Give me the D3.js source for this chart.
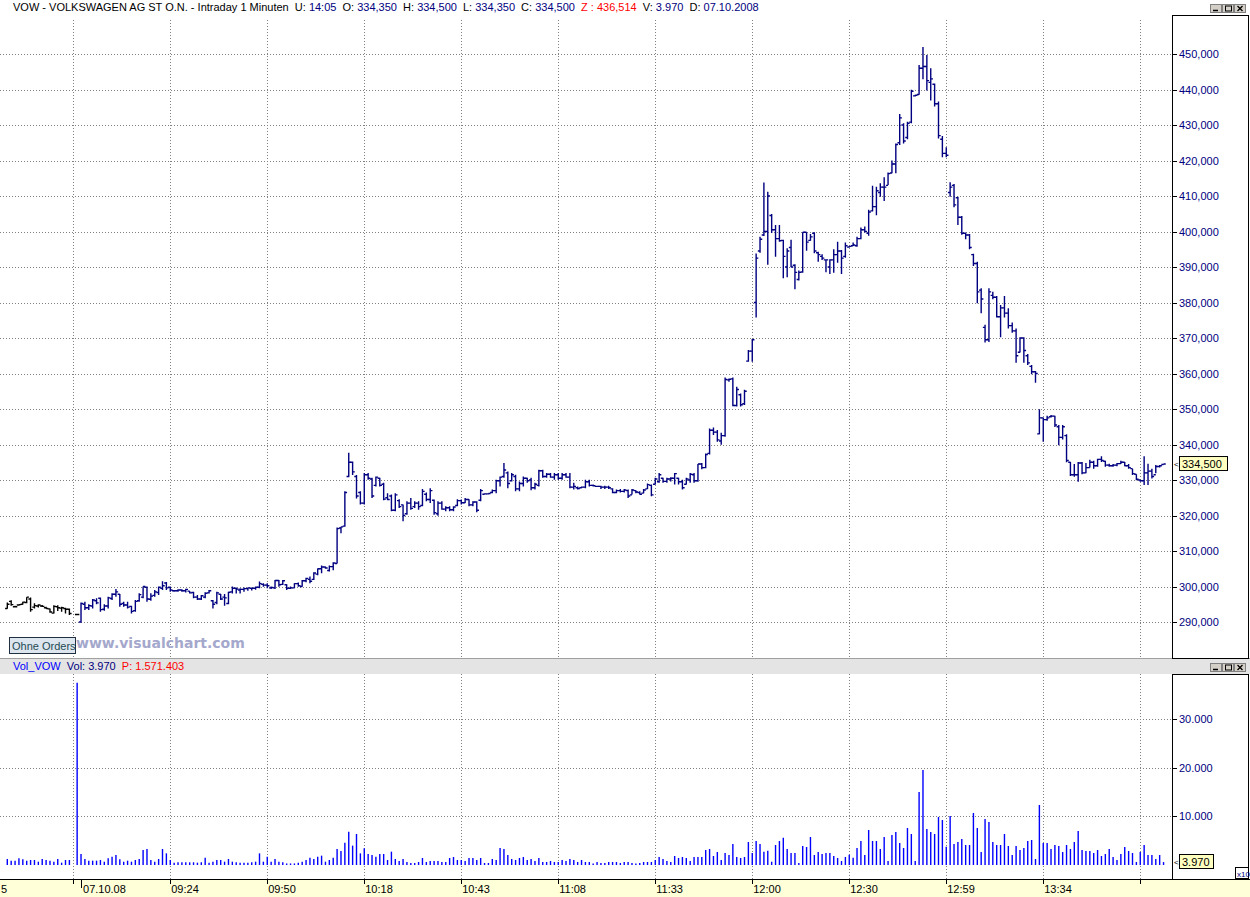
<!DOCTYPE html>
<html>
<head>
<meta charset="utf-8">
<title>VOW Intraday 1 Minuten</title>
<script src="https://cdn.jsdelivr.net/npm/d3@7"></script>
<style>
  body { margin: 0; background: #fff; }
  svg { display: block; font-family: "Liberation Sans", Arial, sans-serif; }
</style>
</head>
<body>
<script>
// 1-minute bars, index 0 = first bar on screen (index 17 = session gap)
var opens = [293.8,295.8,294.3,294.8,295.0,295.5,296.5,294.2,294.5,294.5,294.0,293.7,292.5,294.3,293.9,293.8,293.6,null,292.1,290.0,
  295.0,294.0,294.5,296.0,296.7,293.6,294.5,296.6,297.8,297.8,295.2,294.8,294.4,293.2,296.0,297.0,299.8,296.4,297.5,298.3,
  299.5,301.0,299.8,298.8,298.8,299.0,298.8,298.7,298.3,297.0,296.5,297.0,298.2,296.0,295.5,297.8,297.0,295.2,298.5,299.5,
  299.0,299.2,299.4,299.5,299.5,299.8,300.6,300.4,299.6,299.6,301.7,300.6,300.5,299.5,299.6,300.8,300.0,301.6,302.0,302.0,
  303.5,305.0,305.5,304.5,305.6,306.5,316.5,317.0,331.0,335.0,331.0,326.5,323.5,331.5,330.3,328.5,330.5,328.8,325.0,325.5,
  321.5,324.2,323.0,320.5,323.5,322.5,323.5,322.8,326.0,324.5,324.3,320.5,323.5,321.8,322.2,321.6,322.8,324.2,323.6,324.5,
  323.0,323.8,324.3,326.0,326.1,326.5,327.0,329.8,331.0,332.0,329.8,331.0,327.5,329.0,330.5,330.0,327.8,328.5,332.6,331.0,
  331.6,330.8,331.5,330.5,331.5,330.8,328.0,327.8,327.8,328.0,329.5,328.5,328.2,328.2,328.0,328.0,327.5,326.5,327.0,326.8,
  327.0,325.8,327.0,326.5,326.3,327.5,328.5,328.8,329.5,330.5,329.6,330.3,330.5,330.5,329.5,328.8,330.0,331.5,329.8,334.5,
  333.5,337.5,344.0,343.5,341.0,342.5,358.2,358.5,351.0,354.0,351.5,363.5,366.3,380.0,394.5,399.0,400.0,404.5,400.5,398.0,
  397.5,390.0,395.5,390.5,386.5,388.6,399.8,397.5,399.5,394.0,393.0,392.0,390.0,392.0,393.5,394.5,393.0,395.6,396.0,396.0,
  398.0,400.5,399.5,405.8,407.0,411.0,412.5,413.0,416.5,419.0,425.0,430.0,426.5,430.8,438.2,438.6,446.0,446.5,442.0,441.5,
  436.0,426.0,422.0,411.0,413.0,409.5,404.0,399.5,399.0,393.5,391.0,383.5,373.0,369.5,382.0,381.5,376.0,378.5,377.0,373.5,
  372.0,366.0,370.0,365.0,362.0,360.5,343.0,347.5,347.0,347.8,348.0,345.0,342.0,342.5,335.0,331.5,331.5,334.8,332.0,333.5,
  335.0,334.0,335.8,335.3,334.2,334.0,334.2,334.6,335.0,334.0,333.2,331.6,330.0,329.8,332.0,332.5,331.5,333.8,334.35];
var highs = [295.5,296.1,294.6,295.0,295.7,297.0,296.9,295.3,295.0,294.8,294.3,293.8,294.7,294.7,294.3,294.0,293.8,null,292.2,295.5,
  295.7,295.0,296.5,296.7,296.9,295.0,297.1,298.1,299.3,297.9,295.7,295.7,294.6,296.2,298.1,300.0,300.0,298.1,299.0,300.0,
  301.5,301.3,300.0,299.0,299.2,299.2,299.4,298.7,298.5,297.6,297.6,298.4,299.0,296.2,298.5,297.9,297.9,298.5,300.0,299.7,
  299.5,299.7,299.7,299.7,300.0,301.4,300.9,300.9,300.0,301.8,301.8,301.8,300.6,300.0,300.9,301.1,301.8,302.5,302.8,304.0,
  305.1,305.9,305.6,305.9,306.8,316.6,316.8,326.8,337.7,335.2,331.4,326.8,332.0,332.0,330.6,331.0,330.6,329.2,326.3,325.9,
  326.3,324.6,323.1,324.0,324.9,324.0,324.0,327.5,326.5,327.7,324.5,324.0,324.0,322.6,322.6,322.6,324.6,324.5,324.9,324.6,
  324.0,324.0,327.5,326.3,326.3,327.3,330.1,331.0,334.8,332.4,332.0,331.5,329.6,331.0,330.6,330.6,329.2,332.9,332.9,332.0,
  332.0,332.0,332.0,332.0,332.0,332.0,329.2,328.2,328.2,330.1,330.1,328.7,328.4,328.4,328.4,328.4,327.7,327.3,327.5,327.5,
  327.3,327.5,327.1,326.8,327.5,329.0,328.7,330.6,332.0,330.6,330.6,330.8,332.0,330.6,330.1,330.6,332.0,332.0,334.5,334.8,
  337.5,344.5,344.8,344.1,343.3,358.9,358.6,358.9,356.3,354.4,355.4,366.6,369.7,393.8,398.5,413.8,411.2,404.9,401.8,401.8,
  397.7,395.3,397.7,390.8,389.0,399.8,399.8,399.3,399.8,394.3,393.6,392.0,392.2,395.0,397.1,394.8,396.9,395.9,396.9,398.5,
  401.1,401.4,406.1,412.9,412.6,413.6,415.3,416.6,420.0,424.8,433.1,430.5,430.9,439.9,438.5,446.9,452.0,449.7,446.0,441.7,
  436.6,426.9,423.7,413.9,413.4,409.8,404.4,399.7,399.3,393.7,391.5,384.0,373.7,384.0,383.0,381.8,379.3,381.8,378.4,374.4,
  372.7,370.2,370.2,365.5,362.4,360.7,349.9,347.6,348.1,348.3,348.1,345.5,345.5,342.9,335.1,334.5,335.1,335.1,334.8,335.7,
  335.4,336.0,336.7,335.4,334.6,334.5,334.8,335.4,335.1,334.5,333.2,331.6,330.1,336.7,334.6,333.2,334.2,334.2,334.5];
var lows = [293.7,294.6,294.1,294.6,294.9,295.3,292.9,293.8,294.1,294.2,293.7,292.6,292.4,293.1,292.9,292.4,292.0,null,292.0,289.8,
  293.4,293.4,293.8,295.0,292.9,293.2,293.8,296.2,297.1,294.3,294.3,293.8,292.4,292.9,295.7,296.7,295.7,296.0,297.1,297.6,
  299.0,299.0,298.5,298.5,298.5,298.5,298.3,298.0,296.7,296.2,296.2,296.7,298.0,293.8,295.0,296.2,294.6,295.0,298.0,298.0,
  298.0,298.5,298.8,298.9,299.1,299.5,299.9,299.5,299.3,299.3,299.9,300.4,299.0,299.3,299.5,299.9,299.9,301.2,300.9,301.8,
  303.2,303.7,305.0,304.2,304.6,306.5,315.0,316.8,330.8,331.4,324.8,323.1,323.1,330.1,324.9,328.2,328.2,324.3,324.3,321.2,
  321.2,322.1,318.4,320.2,321.6,322.1,321.6,322.6,324.0,323.5,320.2,319.9,321.6,321.2,321.2,321.2,322.6,323.1,323.5,322.6,
  322.6,320.9,324.0,325.9,325.9,326.3,326.3,328.2,330.6,327.7,329.6,326.8,326.8,328.2,329.2,327.1,327.3,328.2,330.6,330.6,
  330.6,330.1,330.1,330.1,330.6,327.7,327.3,327.3,327.7,327.7,328.2,328.2,328.0,327.5,327.5,327.5,326.3,326.3,326.5,326.5,
  324.9,325.9,326.3,325.9,326.3,327.5,325.4,328.7,329.2,329.2,329.2,329.6,328.7,328.7,327.3,328.7,329.2,329.2,329.5,333.0,
  333.3,337.2,342.7,340.8,339.9,342.2,357.7,350.8,350.7,350.7,351.1,363.3,363.3,375.8,394.0,398.7,390.6,399.6,392.9,397.1,
  386.8,387.1,389.9,383.7,386.2,388.4,394.6,397.4,393.9,391.5,392.0,388.5,388.0,388.4,391.2,388.0,392.6,395.5,395.9,395.7,
  397.8,399.7,398.8,405.6,404.6,409.8,408.6,413.1,416.4,416.4,424.4,424.8,426.0,430.5,438.0,438.5,442.9,439.7,436.9,435.2,
  426.2,420.9,420.9,409.8,406.8,401.8,399.1,397.8,395.0,390.3,379.8,377.0,368.7,368.9,380.9,375.8,370.2,375.8,372.7,371.5,
  363.0,365.9,363.0,362.4,359.8,357.4,342.9,340.8,346.7,347.6,344.9,339.8,341.4,335.0,331.1,330.9,329.5,331.6,331.9,333.5,
  333.2,333.7,335.1,333.7,333.7,333.7,333.9,334.5,333.9,333.2,331.4,329.9,329.5,328.6,328.6,330.4,331.9,333.5,334.35];
var closes = [295.0,294.9,294.3,294.9,295.6,297.0,293.5,294.6,294.8,294.4,293.8,292.8,294.4,294.0,294.0,293.6,292.4,null,292.1,295.2,
  294.0,294.6,296.2,295.4,293.5,294.5,296.8,297.8,298.5,295.0,294.8,294.2,293.0,295.8,297.7,300.0,296.5,297.3,298.5,299.8,
  300.2,299.6,299.0,298.8,299.0,298.8,299.2,298.2,297.0,296.5,297.4,298.1,298.8,295.0,298.2,296.5,296.8,298.4,299.5,299.3,
  299.2,299.4,299.6,299.5,299.8,300.8,300.4,300.2,299.7,301.7,300.5,301.6,299.5,299.6,300.8,300.2,301.6,302.3,301.5,303.8,
  305.0,305.5,305.2,305.6,306.6,316.3,316.8,326.5,335.0,332.3,325.5,323.5,331.5,330.5,325.5,330.8,328.5,324.6,324.5,321.5,
  325.8,322.5,320.0,323.5,322.0,323.5,322.5,326.8,324.5,327.0,320.8,323.5,321.8,322.2,321.6,322.4,324.2,323.6,324.5,323.0,
  323.8,321.5,327.0,326.1,326.2,327.0,329.8,330.8,332.8,329.0,331.5,327.5,329.0,330.5,329.8,327.8,328.8,332.6,331.0,331.6,
  330.8,331.5,330.5,331.5,330.8,328.0,328.2,327.6,328.0,329.5,328.5,328.4,328.2,328.0,328.0,327.8,326.5,327.0,326.8,327.2,
  325.5,327.2,326.6,326.0,327.2,328.7,325.8,330.3,331.5,329.6,330.3,330.5,331.8,329.5,327.8,330.3,331.6,329.8,334.5,333.5,
  337.2,344.0,343.5,341.3,342.5,358.3,358.4,351.0,355.5,351.2,355.0,366.3,369.5,392.5,397.8,400.0,410.0,400.5,398.0,397.4,
  393.0,394.5,390.0,388.5,388.5,399.8,397.0,398.5,394.5,393.5,392.5,392.0,392.0,393.5,394.5,392.5,396.0,395.8,396.2,398.0,
  400.5,400.0,405.5,407.0,411.5,412.5,412.5,416.3,419.0,424.5,432.0,425.5,430.5,439.5,438.4,446.0,446.5,442.5,443.0,436.0,
  427.0,422.0,421.5,412.5,407.5,404.0,399.5,399.0,395.5,391.0,383.0,381.0,369.5,383.0,381.5,376.0,378.5,377.0,373.5,372.0,
  365.0,370.0,366.5,363.0,360.5,360.0,347.5,347.0,347.5,348.0,345.5,342.0,345.0,335.5,331.5,331.5,334.8,332.0,333.5,335.0,
  334.0,335.8,335.5,334.2,334.0,334.2,334.6,335.0,334.0,333.5,331.8,330.2,329.8,332.0,332.5,331.0,333.8,334.0,334.5];
// volume in axis units (axis is x10)
var volumes = [1040,690,690,1180,970,690,830,830,480,1040,830,690,480,1040,280,830,830,null,37600,2080,
  1040,690,690,690,830,480,1180,1520,1870,970,480,690,480,830,1040,2910,3110,830,480,1040,
  3110,2210,830,280,350,350,350,350,350,280,350,1310,280,480,830,830,480,1040,480,350,
  280,280,280,350,480,2210,480,1520,480,1040,480,350,120,120,120,280,480,830,1310,1040,
  1520,1730,480,830,1310,3110,2700,4430,6710,3810,6230,2210,3250,2080,1870,1520,2080,2080,830,2560,
  1040,620,1040,420,210,210,420,1250,420,620,620,620,420,420,1250,1450,830,830,620,1250,
  1250,830,1250,210,210,1040,830,3320,3110,1870,1040,830,1250,1450,830,1040,620,1250,420,420,
  620,420,420,830,620,1040,830,420,830,420,420,100,420,210,210,420,420,420,210,420,
  420,210,100,210,420,420,420,830,1450,1040,620,420,1660,1250,1450,1250,620,1450,1450,1450,
  2910,3110,1660,2490,830,2280,1870,4150,1450,1250,1450,4570,2280,4780,4150,2560,2770,480,3940,4770,
  5470,3110,2280,2280,210,3740,3530,5600,1870,2490,2080,2280,2280,1660,1250,620,1450,1940,1310,3320,
  4770,1870,7060,4770,4770,3110,5600,620,6020,6640,4360,3320,7470,6230,620,14950,19510,7270,6640,6230,
  9760,9130,3600,9960,4150,4570,5190,3940,3940,10590,7470,2490,9340,8720,4570,3940,3940,6230,3740,1870,
  3740,2900,3320,4770,4980,1040,12250,4360,4360,3110,3940,3740,2490,3940,3110,4570,6850,2900,2700,2700,
  2280,2900,1660,2080,3110,1450,830,2080,3530,2700,2280,420,2490,3940,1870,1870,1040,1870,397];
var priceTicks = [290,300,310,320,330,340,350,360,370,380,390,400,410,420,430,440,450];
var volTicks = [10000,20000,30000];
var gridIdx = [17,42,67,92,117,142,167,192,217,242,267,292];
var timeTickIdx = [42,67,92,117,142,167,192,217,242,267];
var timeTickLabels = ["09:24","09:50","10:18","10:43","11:08","11:33","12:00","12:30","12:59","13:34"];
var edgeLabel = "5"; // tail of the previous session's label, cut by the left edge
var dayTickIdx = 19, dayLabel = "07.10.08";
var prevDayLast = 18;

var W = 1250, H = 897;
var plotR = 1172;
var pTop = 15, pBot = 658, vTop = 674, vBot = 879;

var de = d3.formatLocale({decimal: ",", thousands: ".", grouping: [3], currency: ["", ""]});
var fPrice = de.format(",.3f");
var fVol = de.format(",d");

var svg = d3.select("body").append("svg").attr("width", W).attr("height", H);
svg.append("rect").attr("width", W).attr("height", H).attr("fill", "#fff");

var x = d3.scaleLinear().domain([0, 298]).range([7.3, 7.3 + 3.88 * 298]);
var y = d3.scaleLinear().domain([290, 450]).range([622, 54]);
var yv = d3.scaleLinear().domain([0, 30000]).range([864, 719.4]);

var idx = d3.range(opens.length).filter(function(i) { return opens[i] !== null; });

// ---- grid ----
var grid = svg.append("g").attr("stroke", "#808080").attr("stroke-dasharray", "1,2").attr("stroke-width", 1);
grid.selectAll(".hp").data(priceTicks).enter().append("line")
  .attr("x1", 0).attr("x2", plotR)
  .attr("y1", function(d) { return Math.round(y(d)) + 0.5; })
  .attr("y2", function(d) { return Math.round(y(d)) + 0.5; });
grid.selectAll(".hv").data(volTicks).enter().append("line")
  .attr("x1", 0).attr("x2", plotR)
  .attr("y1", function(d) { return Math.round(yv(d)) + 0.5; })
  .attr("y2", function(d) { return Math.round(yv(d)) + 0.5; });
grid.selectAll(".vp").data(gridIdx).enter().append("line")
  .attr("x1", function(d) { return Math.round(x(d)) + 0.5; })
  .attr("x2", function(d) { return Math.round(x(d)) + 0.5; })
  .attr("y1", 20).attr("y2", pBot);
grid.selectAll(".vv").data(gridIdx).enter().append("line")
  .attr("x1", function(d) { return Math.round(x(d)) + 0.5; })
  .attr("x2", function(d) { return Math.round(x(d)) + 0.5; })
  .attr("y1", vTop).attr("y2", vBot);

// ---- price bars ----
svg.append("g").selectAll("path").data(idx).enter().append("path")
  .attr("fill", "none")
  .attr("stroke", function(i) { return i <= prevDayLast ? "#000" : "#000080"; })
  .attr("stroke-width", 1.4)
  .attr("d", function(i) {
    var cx = x(i);
    return "M" + cx + "," + y(highs[i]) + "V" + y(lows[i]) +
      "M" + (cx - 2.2) + "," + y(opens[i]) + "H" + cx +
      "M" + cx + "," + y(closes[i]) + "H" + (cx + 2.2);
  });

// ---- volume bars ----
svg.append("g").selectAll("line").data(idx).enter().append("line")
  .attr("stroke", "#0000ff").attr("stroke-width", 1.4)
  .attr("x1", function(i) { return x(i); }).attr("x2", function(i) { return x(i); })
  .attr("y1", yv(0) + 1).attr("y2", function(i) { return yv(volumes[i]); });

// ---- watermark & "Ohne Orders" ----
svg.append("text").attr("x", 76).attr("y", 648).attr("font-size", 14).attr("font-weight", "bold")
  .attr("font-family", "'DejaVu Sans', Verdana, sans-serif")
  .attr("fill", "#a4a8cc").text("www.visualchart.com");
svg.append("rect").attr("x", 9.5).attr("y", 637.5).attr("width", 66).attr("height", 16)
  .attr("fill", "#dde6ee").attr("stroke", "#203040");
svg.append("text").attr("x", 12).attr("y", 650).attr("font-size", 11).attr("fill", "#1f4a55").text("Ohne Orders");

// ---- panel separators ----
svg.append("rect").attr("x", 0).attr("y", pBot + 1).attr("width", W).attr("height", vTop - pBot - 1).attr("fill", "#e4e4e4");
svg.append("line").attr("x1", 0).attr("x2", W).attr("y1", pBot + 0.5).attr("y2", pBot + 0.5).attr("stroke", "#a0a0a0");

// ---- right axis boxes ----
function axisBox(t, b) {
  svg.append("rect").attr("x", plotR + 0.5).attr("y", t + 0.5).attr("width", W - plotR - 2).attr("height", b - t)
    .attr("fill", "#fff").attr("stroke", "#000");
}
axisBox(pTop, pBot);
axisBox(vTop, vBot);

var pAx = svg.append("g");
pAx.selectAll("line").data(priceTicks).enter().append("line")
  .attr("x1", plotR).attr("x2", plotR + 5).attr("stroke", "#000")
  .attr("y1", function(d) { return Math.round(y(d)) + 0.5; }).attr("y2", function(d) { return Math.round(y(d)) + 0.5; });
pAx.selectAll("text").data(priceTicks).enter().append("text")
  .attr("x", plotR + 7).attr("y", function(d) { return y(d) + 4; })
  .attr("font-size", 11).attr("fill", "#000080").text(function(d) { return fPrice(d); });

var vAx = svg.append("g");
vAx.selectAll("line").data(volTicks).enter().append("line")
  .attr("x1", plotR).attr("x2", plotR + 5).attr("stroke", "#000")
  .attr("y1", function(d) { return Math.round(yv(d)) + 0.5; }).attr("y2", function(d) { return Math.round(yv(d)) + 0.5; });
vAx.selectAll("text").data(volTicks).enter().append("text")
  .attr("x", plotR + 7).attr("y", function(d) { return yv(d) + 4; })
  .attr("font-size", 11).attr("fill", "#000080").text(function(d) { return fVol(d); });

// last value markers
function lastBox(cy, label, w) {
  svg.append("text").attr("x", plotR + 2).attr("y", cy + 3).attr("font-size", 8).attr("fill", "#000").text("<");
  svg.append("rect").attr("x", plotR + 7.5).attr("y", cy - 7.5).attr("width", w).attr("height", 14)
    .attr("fill", "#ffffc0").attr("stroke", "#000");
  svg.append("text").attr("x", plotR + 10).attr("y", cy + 4).attr("font-size", 11).attr("fill", "#000").text(label);
}
var last = opens.length - 1;
lastBox(y(closes[last]), fPrice(closes[last]), 48);
lastBox(862, fVol(volumes[last] * 10), 34);
svg.append("rect").attr("x", 1235.5).attr("y", 867.5).attr("width", 13).attr("height", 11).attr("fill", "#fff").attr("stroke", "#000");
svg.append("text").attr("x", 1237).attr("y", 876.5).attr("font-size", 8).attr("fill", "#000080").text("x10");

// ---- x axis band ----
svg.append("rect").attr("x", 0).attr("y", vBot + 1).attr("width", W).attr("height", H - vBot - 1).attr("fill", "#ffffd8");
svg.append("line").attr("x1", 0).attr("x2", W).attr("y1", vBot + 0.5).attr("y2", vBot + 0.5).attr("stroke", "#000");
var xAx = svg.append("g");
xAx.selectAll("line").data(gridIdx).enter().append("line")
  .attr("x1", function(d) { return Math.round(x(d)) + 0.5; }).attr("x2", function(d) { return Math.round(x(d)) + 0.5; })
  .attr("y1", vBot).attr("y2", vBot + 5).attr("stroke", "#000");
xAx.append("line").attr("x1", Math.round(x(dayTickIdx)) + 0.5).attr("x2", Math.round(x(dayTickIdx)) + 0.5)
  .attr("y1", vBot).attr("y2", vBot + 9).attr("stroke", "#000");
xAx.selectAll("text.t").data(timeTickIdx).enter().append("text")
  .attr("x", function(d) { return x(d) + 1; }).attr("y", 893)
  .attr("font-size", 11).attr("fill", "#000").text(function(d, i) { return timeTickLabels[i]; });
xAx.append("text").attr("x", x(dayTickIdx) + 2).attr("y", 893).attr("font-size", 11).attr("fill", "#000").text(dayLabel);
xAx.append("text").attr("x", 1).attr("y", 893).attr("font-size", 11).attr("fill", "#000").text(edgeLabel);

// ---- headers ----
var hdr = svg.append("text").attr("x", 13).attr("y", 11).attr("font-size", 11).attr("fill", "#000")
  .style("white-space", "pre");
var parts = [
  ["VOW - VOLKSWAGEN AG ST O.N. - Intraday 1 Minuten  U: ", "#000"], ["14:05", "#000080"],
  ["  O: ", "#000"], [fPrice(opens[last]), "#000080"],
  ["  H: ", "#000"], [fPrice(highs[last]), "#000080"],
  ["  L: ", "#000"], [fPrice(lows[last]), "#000080"],
  ["  C: ", "#000"], [fPrice(closes[last]), "#000080"],
  ["  Z : 436,514", "#ff0000"],
  ["  V: ", "#000"], [fVol(volumes[last] * 10), "#000080"],
  ["  D: ", "#000"], ["07.10.2008", "#000080"]
];
hdr.selectAll("tspan").data(parts).enter().append("tspan")
  .attr("fill", function(d) { return d[1]; }).text(function(d) { return d[0]; });

var vh = svg.append("text").attr("x", 13).attr("y", 670).attr("font-size", 11).style("white-space", "pre");
vh.append("tspan").attr("fill", "#0000ff").text("Vol_VOW  ");
vh.append("tspan").attr("fill", "#000080").text("Vol: " + fVol(volumes[last] * 10) + "  ");
vh.append("tspan").attr("fill", "#ff0000").text("P: 1.571.403");

// window buttons
function winButtons(ty) {
  var g = svg.append("g").attr("transform", "translate(1210," + ty + ")");
  [0, 12, 24].forEach(function(dx) {
    g.append("rect").attr("x", dx + 0.5).attr("y", 0.5).attr("width", 11).attr("height", 8)
      .attr("fill", "#d4d0c8").attr("stroke", "#808080");
  });
  g.append("line").attr("x1", 3).attr("x2", 8).attr("y1", 6.5).attr("y2", 6.5).attr("stroke", "#000").attr("stroke-width", 1.5);
  g.append("rect").attr("x", 15.5).attr("y", 2).attr("width", 6).attr("height", 5).attr("fill", "none").attr("stroke", "#000");
  g.append("path").attr("d", "M27.5,2L32.5,7M32.5,2L27.5,7").attr("stroke", "#000").attr("stroke-width", 1.3);
}
winButtons(4);
winButtons(663);
</script>
</body>
</html>
